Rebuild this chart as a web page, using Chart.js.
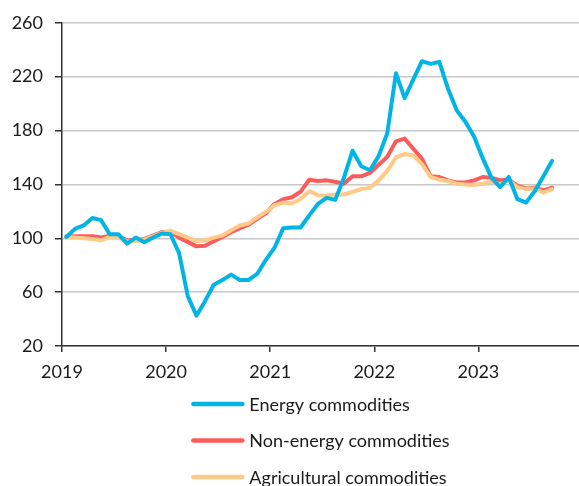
<!DOCTYPE html>
<html>
<head>
<meta charset="utf-8">
<script src="https://cdn.jsdelivr.net/npm/chart.js@4.4.1/dist/chart.umd.min.js"></script>
<style>
  html, body { margin: 0; padding: 0; background: #fff; }
</style>
</head>
<body>
<canvas id="chart" width="579" height="486"></canvas>
<script>
// Commodity price indices, monthly from Jan 2019 (Jan 2019 = 100)
const yearLabels = ['2019', '2020', '2021', '2022', '2023'];
const seriesNames = ['Energy commodities', 'Non-energy commodities', 'Agricultural commodities'];

const energy = [
    101, 107, 109.5, 115, 113.5, 103, 103, 96, 100.5, 97, 100.5, 103.5,
    103, 89, 57, 42.5, 53.5, 65.5, 69, 73, 69, 69, 73.5, 84,
    93, 107.5, 108, 108, 117, 125.5, 130, 128.5, 145, 165, 153.5, 150.5,
    161, 178, 222.5, 204, 218, 231.5, 229.5, 231, 211, 195, 186.5, 175.5,
    159.5, 145, 138, 145.5, 129, 126.5, 135, 146, 157.5
];
const nonEnergy = [
    101.5, 101.5, 101.5, 101.5, 100.5, 102, 101.5, 98.5, 98.5, 99.5, 102, 104.5,
    105, 100.5, 97.3, 94, 94.5, 97.8, 101, 104.5, 107.5, 110, 114.5, 118.5,
    125.5, 129, 130.5, 134.5, 143.5, 142.5, 143, 142, 140.5, 146, 146, 148.5,
    154.5, 160.5, 172, 174, 166.5, 159, 146, 145.5, 143, 141.5, 141.5, 143,
    145.5, 145, 143, 143.5, 139, 137, 137.5, 135.5, 137.5
];
const agricultural = [
    101, 100.5, 100, 99.5, 98.5, 101, 100.5, 97.8, 97.8, 99, 101.5, 104,
    105.5, 103, 100.5, 98, 98.5, 100.5, 102, 106, 109.5, 111, 115.5, 119.5,
    124.5, 126.5, 126, 129, 135, 132, 131.5, 132.5, 132.5, 134.5, 136.5, 137.5,
    143, 150, 160, 162.5, 161.5, 155, 145.5, 143.5, 142.5, 140.5, 140, 139.5,
    140.5, 142, 140, 143, 138, 136.5, 137, 134, 136.5
];

const colors = ['#00b4e6', '#fb5b5b', '#ffc987'];
const FONT = 'Lato, "DejaVu Sans", sans-serif';

// months since Jan 2019, plotted mid-month
function toPoints(values) {
    return values.map((v, i) => ({ x: i + 0.5, y: v }));
}

// legend stacked one item per row under the x axis
const stackedLegend = {
    id: 'stackedLegend',
    afterDraw(chart, args, opts) {
        const ctx = chart.ctx;
        const area = chart.chartArea;
        ctx.save();
        ctx.font = opts.font;
        const widths = chart.data.datasets.map(d => ctx.measureText(d.label).width);
        const itemW = opts.lineLength + opts.gap + Math.max(...widths);
        const x = (area.left + area.right) / 2 - itemW / 2;
        chart.data.datasets.forEach((d, k) => {
            const y = opts.top + k * opts.rowHeight;
            ctx.strokeStyle = d.borderColor;
            ctx.lineWidth = 4.5;
            ctx.lineCap = 'round';
            ctx.beginPath();
            ctx.moveTo(x + 2, y);
            ctx.lineTo(x + opts.lineLength - 2, y);
            ctx.stroke();
            ctx.fillStyle = '#1a1a1a';
            ctx.textBaseline = 'middle';
            ctx.fillText(d.label, x + opts.lineLength + opts.gap, y + 1);
        });
        ctx.restore();
    }
};

const allSeries = [energy, nonEnergy, agricultural];
const drawOrder = [0, 2, 1]; // energy on top, then agricultural, then non-energy

new Chart(document.getElementById('chart'), {
    type: 'line',
    data: {
        datasets: allSeries.map((s, k) => ({
            label: seriesNames[k],
            data: toPoints(s),
            borderColor: colors[k],
            backgroundColor: colors[k],
            borderWidth: 4,
            pointRadius: 0,
            tension: 0,
            borderJoinStyle: 'round',
            borderCapStyle: 'round',
            order: drawOrder[k]
        }))
    },
    options: {
        responsive: false,
        animation: false,
        layout: { padding: { top: 20, left: 12, right: 0, bottom: 103 } },
        plugins: {
            legend: { display: false },
            tooltip: { enabled: false },
            stackedLegend: {
                font: '18px ' + FONT,
                lineLength: 53,
                gap: 5,
                top: 404,
                rowHeight: 36.5
            }
        },
        scales: {
            x: {
                type: 'linear',
                min: 0,
                max: 59.6,
                afterBuildTicks: s => { s.ticks = yearLabels.map((l, k) => ({ value: k * 12 })); },
                afterFit: s => { s.height = 37; },
                ticks: {
                    callback: v => yearLabels[Math.round(v / 12)] || '',
                    color: '#1a1a1a',
                    font: { family: FONT, size: 18 },
                    padding: 9,
                    maxRotation: 0
                },
                grid: { drawOnChartArea: false, tickLength: 6, tickColor: '#333', lineWidth: 1.5 },
                border: { color: '#333', width: 1.5 }
            },
            y: {
                min: 20,
                max: 260,
                afterFit: s => { s.width = 50; },
                ticks: {
                    stepSize: 40,
                    color: '#1a1a1a',
                    font: { family: FONT, size: 18 },
                    padding: 12
                },
                grid: { color: '#c8c8c8', lineWidth: 1.5, tickColor: '#333', tickLength: 7 },
                border: { color: '#333', width: 1.5 }
            }
        }
    },
    plugins: [stackedLegend]
});
</script>
</body>
</html>
